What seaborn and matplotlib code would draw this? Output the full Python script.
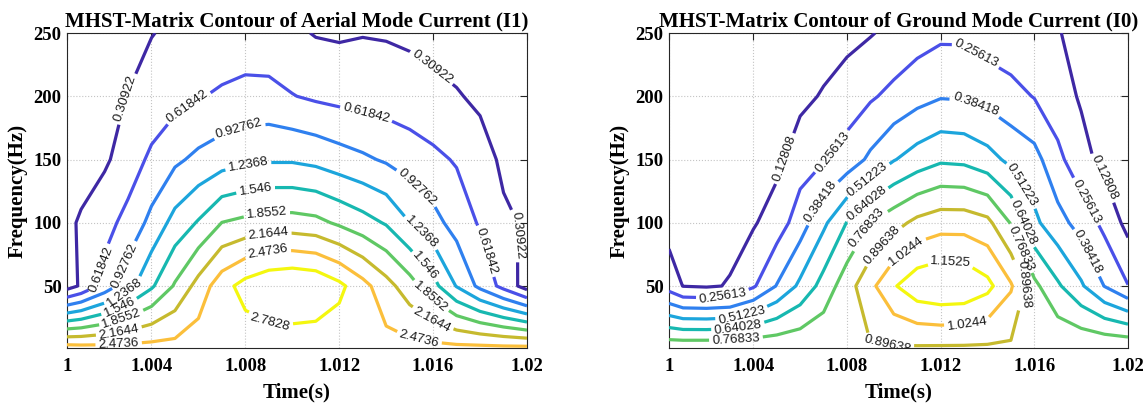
import numpy as np
import matplotlib
matplotlib.use("Agg")
import matplotlib.pyplot as plt
import seaborn as sns

# ---------------- data ----------------
time_s = [1.0004, 1.001, 1.002, 1.003, 1.004, 1.005, 1.006, 1.007, 1.008, 1.009, 1.010,
          1.011, 1.012, 1.013, 1.014, 1.015, 1.016, 1.017, 1.018, 1.019, 1.020]
freq_hz = [1, 50, 100, 150, 200, 250]

# Aerial mode current (I1) MHST magnitude, one list per frequency row
aerial_f1 = [2.60, 2.58, 2.57, 2.57, 2.58, 2.58, 2.65, 2.62, 2.60, 2.59, 2.58,
             2.58, 2.58, 2.58, 2.58, 2.57, 2.56, 2.55, 2.55, 2.54, 2.54]
aerial_f50 = [0.18, 0.35, 0.73, 1.12, 1.50, 1.89, 2.28, 2.66, 2.90, 3.05, 3.10,
              3.05, 2.86, 2.58, 2.28, 1.99, 1.65, 1.22, 0.85, 0.52, 0.17]
aerial_f100 = [0.22, 0.36, 0.515, 0.713, 1.016, 1.347, 1.574, 1.86, 1.93, 1.98, 1.98,
               1.94, 1.805, 1.667, 1.518, 1.24, 1.031, 0.809, 0.584, 0.354, 0.279]
aerial_f150 = [0.10, 0.12, 0.26, 0.46, 0.68, 0.87, 1.00, 1.10, 1.17, 1.20, 1.20,
               1.15, 1.06, 0.98, 0.89, 0.79, 0.69, 0.59, 0.42, 0.26, 0.15]
aerial_f200 = [0.05, 0.10, 0.20, 0.32, 0.42, 0.51, 0.60, 0.66, 0.71, 0.71, 0.63,
               0.57, 0.53, 0.50, 0.47, 0.43, 0.38, 0.33, 0.26, 0.18, 0.12]
aerial_f250 = [0.02, 0.05, 0.10, 0.17, 0.30, 0.36, 0.40, 0.43, 0.44, 0.42, 0.37,
               0.29, 0.27, 0.295, 0.285, 0.26, 0.22, 0.18, 0.14, 0.10, 0.07]

# Ground mode current (I0)
ground_f1 = [0.857, 0.860, 0.862, 0.865, 0.867, 0.869, 0.871, 0.875, 0.885, 0.887, 0.885,
             0.883, 0.881, 0.880, 0.878, 0.876, 0.878, 0.879, 0.879, 0.879, 0.878]
ground_f50 = [0.20, 0.125, 0.115, 0.135, 0.24, 0.39, 0.54, 0.69, 0.84, 0.99, 1.14,
              1.24, 1.27, 1.26, 1.19, 1.04, 0.80, 0.66, 0.53, 0.38, 0.26]
ground_f100 = [0.077, 0.08, 0.085, 0.095, 0.115, 0.19, 0.32, 0.486, 0.645, 0.77, 0.85,
               0.93, 0.97, 0.97, 0.93, 0.76, 0.54, 0.43, 0.335, 0.222, 0.088]
ground_f150 = [0.03, 0.035, 0.04, 0.05, 0.065, 0.095, 0.20, 0.245, 0.31, 0.41, 0.505,
               0.57, 0.62, 0.61, 0.56, 0.48, 0.43, 0.29, 0.17, 0.09, 0.07]
ground_f200 = [0.01, 0.015, 0.02, 0.03, 0.045, 0.065, 0.095, 0.14, 0.19, 0.24, 0.29,
               0.34, 0.375, 0.37, 0.34, 0.30, 0.25, 0.18, 0.115, 0.08, 0.05]
ground_f250 = [0.005, 0.008, 0.01, 0.015, 0.02, 0.03, 0.045, 0.065, 0.09, 0.12, 0.16,
               0.20, 0.23, 0.23, 0.19, 0.17, 0.16, 0.135, 0.09, 0.06, 0.04]

aerial_levels = [0.30922, 0.61842, 0.92762, 1.2368, 1.546, 1.8552, 2.1644, 2.4736, 2.7828]
ground_levels = [0.12808, 0.25613, 0.38418, 0.51223, 0.64028, 0.76833, 0.89638, 1.0244, 1.1525]

x_tick_pos = [1.0004, 1.004, 1.008, 1.012, 1.016, 1.02]
x_tick_labels = ["1", "1.004", "1.008", "1.012", "1.016", "1.02"]
y_ticks = [50, 100, 150, 200, 250]

titles = ["MHST-Matrix Contour of Aerial Mode Current (I1)",
          "MHST-Matrix Contour of Ground Mode Current (I0)"]

# ---------------- style / layout ----------------
level_colors = ['#3e28a4', '#4a50e8', '#2f80ef', '#1ca5dc', '#17b8b0',
                '#5fc864', '#c6ba2e', '#fbbf3b', '#f4f70f']

# inline label anchor positions (time, freq) per level
aerial_label_pos = [
    [(1.00293, 198), (1.01603, 225), (1.01956, 90)],
    [(1.00186, 63), (1.00557, 191), (1.01313, 185), (1.01815, 77)],
    [(1.00287, 66), (1.00776, 173), (1.01525, 127)],
    [(1.0028, 47), (1.00811, 147), (1.01548, 92)],
    [(1.0026, 35), (1.00842, 128), (1.01556, 64)],
    [(1.0027, 26), (1.0089, 109), (1.0158, 40)],
    [(1.0026, 15.5), (1.00897, 92), (1.01595, 23)],
    [(1.0026, 5), (1.00897, 76), (1.0154, 8.6)],
    [(1.00905, 23)],
]
ground_label_pos = [
    [(1.00515, 152), (1.019, 136)],
    [(1.0027, 43), (1.00737, 156), (1.01322, 226), (1.01804, 115)],
    [(1.00725, 113), (1.01338, 188), (1.0182, 76)],
    [(1.0035, 28), (1.00903, 131), (1.01559, 131)],
    [(1.00334, 18), (1.0091, 110), (1.01575, 102)],
    [(1.00326, 8), (1.00923, 92), (1.01559, 81)],
    [(1.00966, 80), (1.00974, 7), (1.01567, 52)],
    [(1.01061, 76), (1.01314, 20)],
    [(1.01243, 68)],
]

sns.set_theme(style="white")
plt.rcParams['font.family'] = ['Liberation Sans', 'DejaVu Sans']
SERIF = ['Liberation Serif', 'DejaVu Serif']

W, H = 1145, 408
fig = plt.figure(figsize=(W / 100, H / 100), dpi=100)
fig.patch.set_facecolor('white')


def make_axes(x0, x1, y0, y1):
    return fig.add_axes([x0 / W, 1 - y1 / H, (x1 - x0) / W, (y1 - y0) / H])


panels = [
    dict(title=titles[0], rows=[aerial_f1, aerial_f50, aerial_f100, aerial_f150, aerial_f200, aerial_f250],
         levels=aerial_levels, labels=aerial_label_pos, box=(67, 527, 33, 348)),
    dict(title=titles[1], rows=[ground_f1, ground_f50, ground_f100, ground_f150, ground_f200, ground_f250],
         levels=ground_levels, labels=ground_label_pos, box=(669, 1128, 33, 348)),
]

for p in panels:
    ax = make_axes(*p['box'])
    ax.set_facecolor('white')
    Z = np.array(p['rows'])
    for lev, col, pos in zip(p['levels'], level_colors, p['labels']):
        cs = ax.contour(time_s, freq_hz, Z, levels=[lev], colors=[col],
                        linewidths=2.3, zorder=3)
        cs.clabel(manual=pos, inline=True, inline_spacing=3,
                  fontsize=9.5, fmt='%.5g', colors='k')
    ax.set_xlim(1.0004, 1.02)
    ax.set_ylim(1, 250)
    ax.set_xticks(x_tick_pos)
    ax.set_xticklabels(x_tick_labels, fontfamily=SERIF, fontsize=13.5, fontweight='bold')
    ax.set_yticks(y_ticks)
    ax.set_yticklabels([str(v) for v in y_ticks], fontfamily=SERIF, fontsize=13.5, fontweight='bold')
    ax.tick_params(direction='in', length=5, width=0.8, top=True, right=True,
                   color='#262626', labelcolor='black')
    ax.tick_params(axis='x', pad=7.5)
    ax.tick_params(axis='y', pad=4)
    ax.grid(True, linestyle=':', linewidth=0.8, color='#c4c4c4')
    ax.set_axisbelow(True)
    for s in ax.spines.values():
        s.set_color('#262626')
        s.set_linewidth(0.8)
    ax.set_title(p['title'], fontfamily=SERIF, fontsize=15, fontweight='bold', pad=5, color='black')
    ax.set_xlabel('Time(s)', fontfamily=SERIF, fontsize=15, fontweight='bold', labelpad=5, color='black')
    ax.set_ylabel('Frequency(Hz)', fontfamily=SERIF, fontsize=15, fontweight='bold', labelpad=4, color='black')

fig.savefig('out.png', dpi=100)
